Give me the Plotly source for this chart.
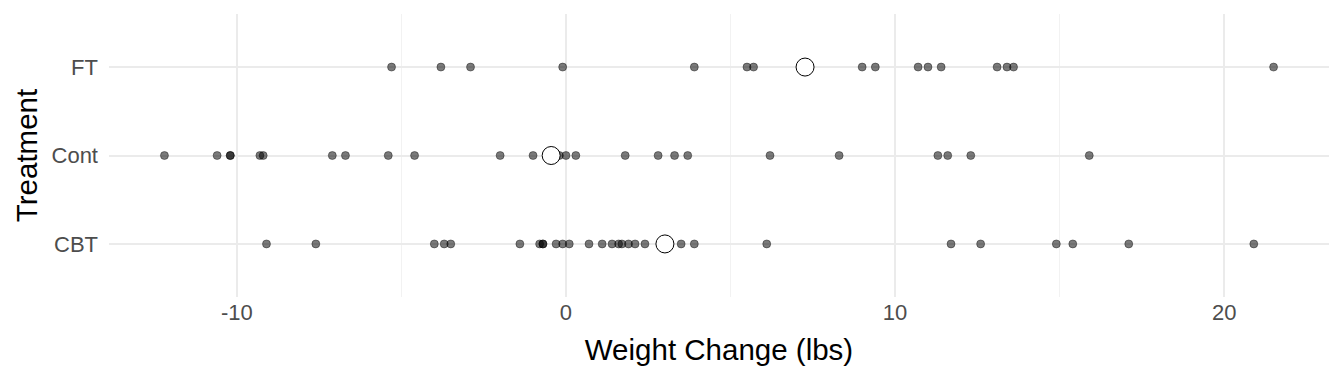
import plotly.graph_objects as go

treatments = ["CBT", "Cont", "FT"]
x_tick_values = [-10, 0, 10, 20]
x_tick_labels = ["-10", "0", "10", "20"]

cont_change = [-0.5, -9.3, -5.4, 12.3, -2.0, -10.2, -12.2, 11.6, -7.1, 6.2, -0.2, -9.2, 8.3,
               3.3, 11.3, 0.0, -1.0, -10.6, -4.6, -6.7, 2.8, 0.3, 1.8, 3.7, 15.9, -10.2]
cbt_change = [1.7, 0.7, -0.1, -0.7, -3.5, 14.9, 3.5, 17.1, -7.6, 1.6, 11.7, 6.1, 1.1, -4.0,
              20.9, -9.1, 2.1, -1.4, 1.4, -0.3, -3.7, -0.8, 2.4, 12.6, 1.9, 3.9, 0.1, 15.4, -0.7]
ft_change = [11.4, 11.0, 5.5, 9.4, 13.6, -2.9, -0.1, 7.4, 21.5, -5.3, -3.8, 13.4, 13.1,
             9.0, 3.9, 5.7, 10.7]

groups = {"CBT": cbt_change, "Cont": cont_change, "FT": ft_change}

fig = go.Figure()
for t in treatments:
    vals = groups[t]
    fig.add_trace(go.Scatter(
        x=vals, y=[t] * len(vals), mode="markers",
        marker=dict(size=8, color="rgba(0,0,0,0.52)",
                    line=dict(color="rgba(0,0,0,0.65)", width=0.6)),
        showlegend=False, hoverinfo="x+y"))

means = [sum(groups[t]) / len(groups[t]) for t in treatments]
fig.add_trace(go.Scatter(
    x=means, y=treatments, mode="markers",
    marker=dict(size=18, color="white", line=dict(color="black", width=1)),
    showlegend=False))

fig.update_layout(
    width=1336, height=376,
    margin=dict(l=101, r=15, t=6, b=87),
    plot_bgcolor="white", paper_bgcolor="white",
    font=dict(family="Liberation Sans, Arial, sans-serif"),
    xaxis=dict(
        range=[-13.885, 23.185], tickvals=x_tick_values, ticktext=x_tick_labels,
        showgrid=True, gridcolor="#ebebeb", gridwidth=2, zeroline=False,
        showline=False, ticks="",
        tickfont=dict(size=22, color="#4d4d4d"),
        minor=dict(tickvals=[-5, 5, 15], showgrid=True, gridcolor="#f2f2f2", gridwidth=1),
        title=dict(text="Weight Change (lbs)", font=dict(size=29.5, color="black"), standoff=15),
    ),
    yaxis=dict(
        categoryorder="array", categoryarray=treatments, range=[-0.6, 2.6],
        showgrid=True, gridcolor="#ebebeb", gridwidth=2, zeroline=False,
        showline=False, ticks="", ticklabelstandoff=10,
        tickfont=dict(size=22, color="#4d4d4d"),
        title=dict(text="Treatment", font=dict(size=29.5, color="black"), standoff=5),
    ),
)

fig.write_html("out.html")
